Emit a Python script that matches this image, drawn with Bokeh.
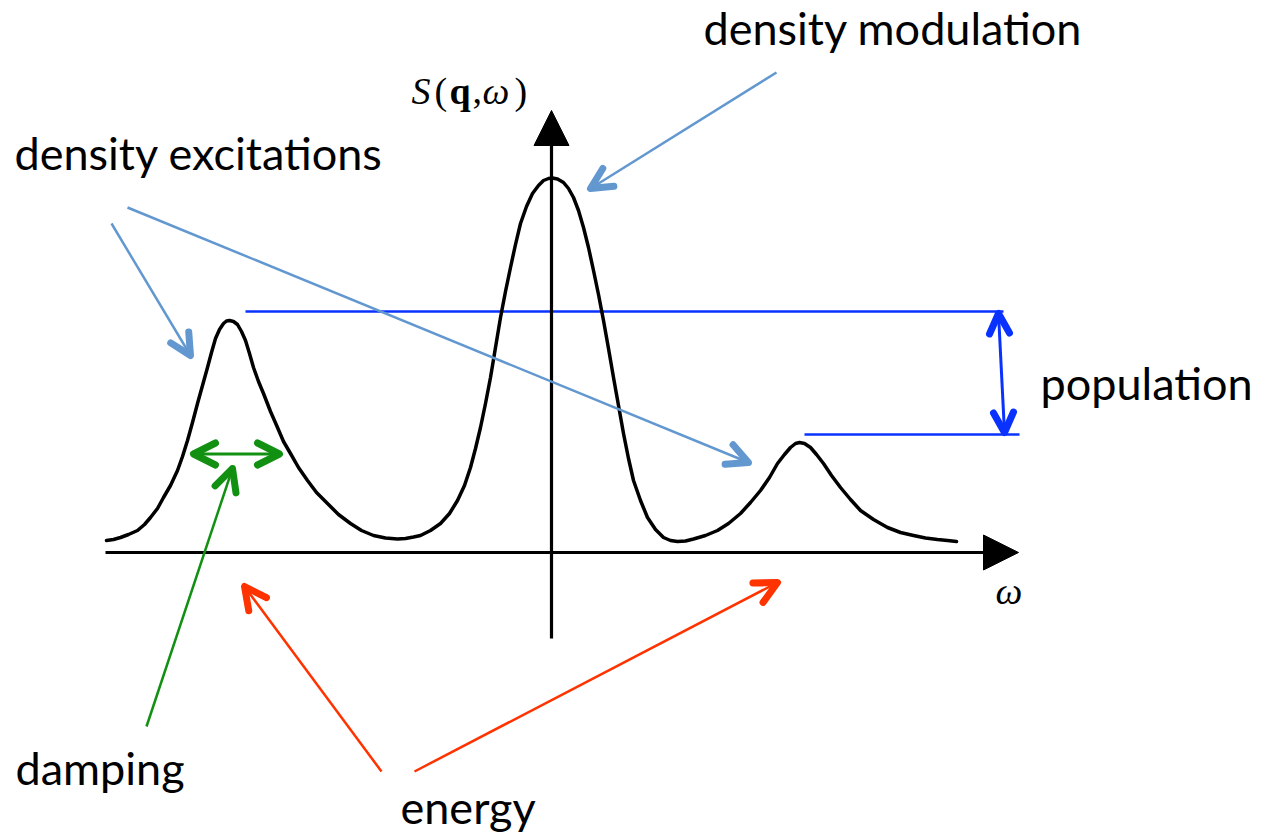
from bokeh.plotting import figure
from bokeh.models import Range1d, Arrow, OpenHead, NormalHead, ColumnDataSource
from bokeh.core.properties import value
from bokeh.embed import file_html
from bokeh.resources import INLINE

# ---- curve S(q, w) (w, S) ----
omega = [-445, -438, -431, -423, -414, -407, -401, -394, -388, -381, -374, -369,
         -364, -359, -354, -349, -344, -340, -336, -332, -328, -325, -322, -318,
         -314, -310, -306, -302, -298, -293, -288, -281, -274, -268, -261, -253,
         -244, -235, -224, -213, -201, -190, -178, -166, -154, -146, -138,
         -131, -121, -111, -102, -94, -87, -81, -76, -71, -66, -61, -56,
         -51, -46, -41, -36, -31, -25, -19, -13, -8, -3, 1, 6,
         12, 17, 22, 27, 32, 37, 42, 47, 52, 57, 62, 67,
         72, 77, 82, 89, 96, 104, 112, 119, 126, 134, 142,
         154, 166, 177, 189, 199, 209, 218, 226, 233, 239, 244, 248,
         253, 259, 265, 272, 280, 289, 299, 309, 322, 336, 349, 362,
         374, 386, 396, 405]
S_val = [12, 13, 15, 18, 22, 28, 35, 44, 55, 67, 82, 96,
         112, 130, 149, 167, 185, 200, 214, 223, 229, 231.5, 232, 231,
         228, 221, 212, 199, 185, 171, 159, 141, 125, 111, 99, 85,
         72, 60, 49, 38, 29, 22, 17, 14.5, 13.5, 14, 15.5,
         17, 22, 29, 39, 52, 67, 85, 104, 125, 149, 175, 205,
         235, 261, 285, 308, 329, 346, 359, 367, 372, 374, 374.5, 373.5,
         370, 364, 355, 342, 325, 305, 282, 258, 232, 204, 175, 147,
         119, 94, 72, 52, 35, 23, 15, 12, 11, 11.5, 13.5,
         17, 22, 29, 39, 50, 62, 75, 89, 98, 105, 109, 110,
         109, 105, 98, 89, 77, 65, 53, 42, 33, 25, 20, 17,
         14.5, 13, 12, 11]

# axes (start, end)
x_axis = [(-446, 0), (467, 0)]
y_axis = [(0, -86), (0, 442)]

# population reference levels: (w_start, w_end, S)
levels = [(-306, 452, 241), (253, 468, 118)]

# annotation arrows: (w0, S0, w1, S1, colour, head size, both ends)
arrows = [
    (225, 480, 39, 364, "#6298CF", 21, False),      # density modulation
    (-440, 329, -361, 197, "#6298CF", 21, False),   # density excitations (left)
    (-424, 345, 197, 90, "#6298CF", 21, False),     # density excitations (right)
    (447, 239, 453, 120, "#0A32FF", 20, True),      # population
    (-358, 98.5, -272, 98.5, "#119011", 22, True),  # width
    (-405, -174, -319, 84, "#119011", 22, False),   # damping
    (-170, -219, -307, -34, "#FF3300", 22, False),  # energy left
    (-137, -219, 226, -30, "#FF3300", 22, False),   # energy right
]

labels = ["density modulation", "density excitations", "population", "damping", "energy"]
label_w = [152, -537, 489, -536, -151]
label_S = [525, 400, 170, -215, -254]

p = figure(width=1266, height=834, output_backend="svg", toolbar_location=None,
           x_range=Range1d(-551, 715), y_range=Range1d(-282, 552),
           x_axis_location=None, y_axis_location=None, min_border=0,
           outline_line_color=None, background_fill_color="white",
           border_fill_color="white")
p.xgrid.visible = False
p.ygrid.visible = False

# blue level lines
for w0, w1, s in levels:
    p.line([w0, w1], [s, s], line_color="#0A32FF", line_width=2.5)

# curve
p.line(omega, S_val, line_color="black", line_width=3.5, line_join="round", line_cap="round")

# axes with filled arrow heads
for (a, b) in (x_axis, y_axis):
    p.add_layout(Arrow(x_start=a[0], y_start=a[1], x_end=b[0], y_end=b[1],
                       line_color="black", line_width=3.2,
                       end=NormalHead(size=35, fill_color="black", line_color="black", line_width=1)))

# annotation arrows
for w0, s0, w1, s1, col, hs, both in arrows:
    head = OpenHead(size=hs, line_color=col, line_width=7, line_cap="round", line_join="round")
    start = OpenHead(size=hs, line_color=col, line_width=7, line_cap="round", line_join="round") if both else None
    lw = 3 if both else 2.5
    p.add_layout(Arrow(x_start=w0, y_start=s0, x_end=w1, y_end=s1,
                       line_color=col, line_width=lw, end=head, start=start))

# text labels
src = ColumnDataSource(dict(x=label_w, y=label_S, t=labels))
p.text(x="x", y="y", text="t", source=src, text_font=value("Lato"),
       text_font_size="45px", text_color="black",
       text_baseline="alphabetic", text_align="left")

# S(q, w) axis title, pieces
title_parts = ["S", "(", "q", ",", "ω", ")"]
title_w = [-140, -117, -102, -79, -69, -37]
title_style = ["italic", "normal", "bold", "normal", "italic", "normal"]
for t, w, st in zip(title_parts, title_w, title_style):
    p.text(x=[w], y=[462], text=[t], text_font=value("Liberation Serif"),
           text_font_size="38px", text_font_style=st, text_color="black",
           text_baseline="alphabetic", text_align="left")

# omega axis label
p.text(x=[444], y=[-38], text=["ω"], text_font=value("Liberation Serif"),
       text_font_size="38px", text_font_style="italic", text_color="black",
       text_baseline="alphabetic", text_align="left")

open("out.html", "w").write(file_html(p, INLINE))
